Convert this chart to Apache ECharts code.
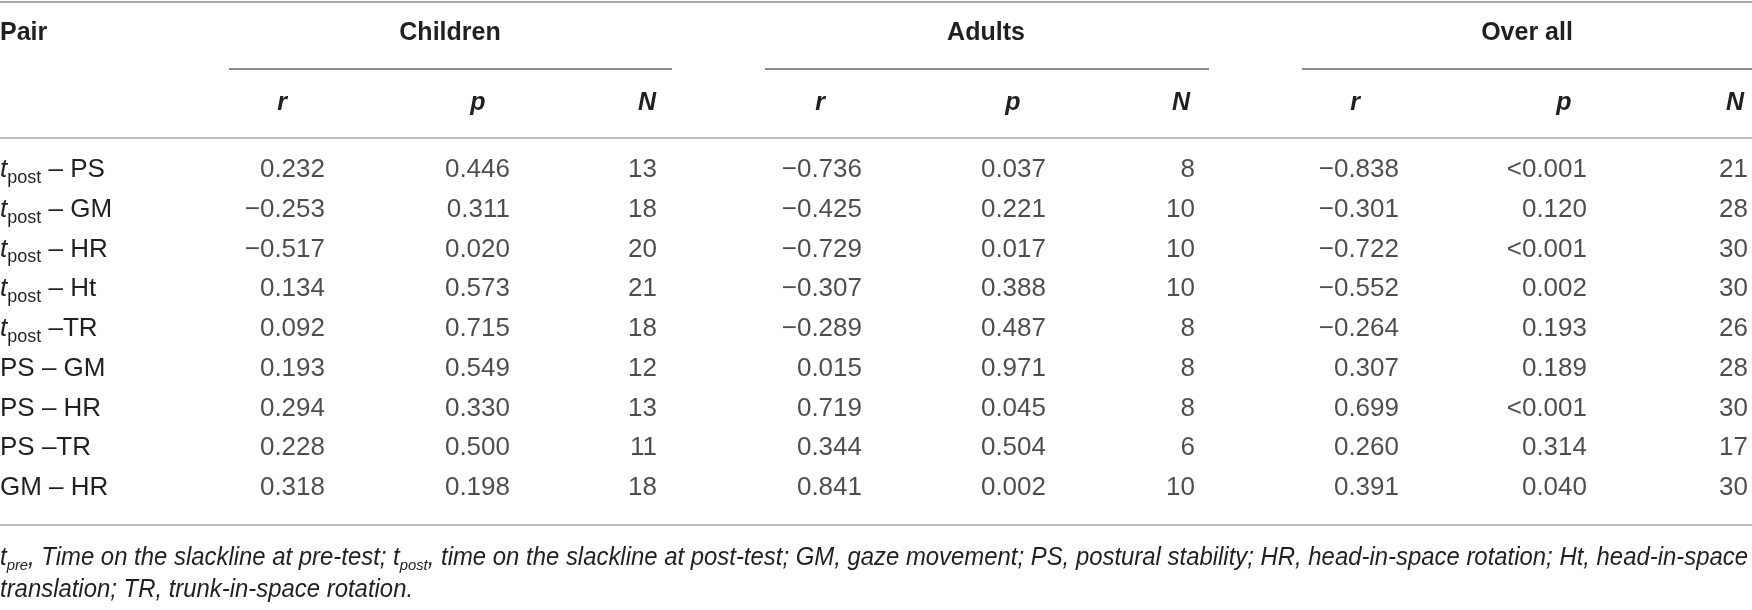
<!DOCTYPE html>
<html>
<head>
<meta charset="utf-8">
<script src="https://cdn.jsdelivr.net/npm/echarts@6/dist/echarts.min.js"></script>
<style>
  html, body { margin: 0; padding: 0; background: #fff; }
  #chart { width: 1752px; height: 610px; }
</style>
</head>
<body>
<div id="chart"></div>
<script>
var pairs = ['t_post – PS', 't_post – GM', 't_post – HR', 't_post – Ht', 't_post –TR',
             'PS – GM', 'PS – HR', 'PS –TR', 'GM – HR'];
var groups = ['Children', 'Adults', 'Over all'];
var statHeads = ['r', 'p', 'N'];

var childrenR = [0.232, -0.253, -0.517, 0.134, 0.092, 0.193, 0.294, 0.228, 0.318];
var childrenP = ['0.446', '0.311', '0.020', '0.573', '0.715', '0.549', '0.330', '0.500', '0.198'];
var childrenN = [13, 18, 20, 21, 18, 12, 13, 11, 18];
var adultsR = [-0.736, -0.425, -0.729, -0.307, -0.289, 0.015, 0.719, 0.344, 0.841];
var adultsP = ['0.037', '0.221', '0.017', '0.388', '0.487', '0.971', '0.045', '0.504', '0.002'];
var adultsN = [8, 10, 10, 10, 8, 8, 8, 6, 10];
var overallR = [-0.838, -0.301, -0.722, -0.552, -0.264, 0.307, 0.699, 0.260, 0.391];
var overallP = ['<0.001', '0.120', '<0.001', '0.002', '0.193', '0.189', '<0.001', '0.314', '0.040'];
var overallN = [21, 28, 30, 30, 26, 28, 30, 17, 30];

(function() {
  var ink = '#231f20';
  var font = "'Liberation Sans', Arial, sans-serif";
  var narrow = "'Liberation Sans Narrow', 'Liberation Sans', sans-serif";
  var W = 1752;
  var size = 26;

  // layout: 9 equal bands, values right aligned with a small nudge per column
  var gridLeft = 206, band = 179, gridTop = 150, rowH = 39.75;
  var valueShift = [29.5, 35.5, 3.5, 29.5, 34.5, 4.5, 29.5, 38.5, 20.5];
  var headShift = [-13.5, 3.5, -6.5, -12.5, 1.5, -9.5, -14.5, 15.5, 7.5];
  var groupShift = [-24.5, -25.5, -21.5];

  function fmtR(v) { return (v < 0 ? '\u2212' : '') + Math.abs(v).toFixed(3); }
  function same(v) { return String(v); }

  var columns = [
    [childrenR, fmtR], [childrenP, same], [childrenN, same],
    [adultsR, fmtR], [adultsP, same], [adultsN, same],
    [overallR, fmtR], [overallP, same], [overallN, same]
  ];

  var colHeads = [];
  groups.forEach(function() { statHeads.forEach(function(h) { colHeads.push(h); }); });

  function shiftPad(s) { return s >= 0 ? [0, 0, 0, 2 * s] : [0, -2 * s, 0, 0]; }

  var headRich = {};
  headShift.forEach(function(s, i) {
    headRich['h' + i] = { fontFamily: font, fontWeight: 'bold', fontStyle: 'italic',
      fontSize: 25, color: ink, padding: shiftPad(s) };
  });
  var groupRich = {};
  groupShift.forEach(function(s, i) {
    groupRich['g' + i] = { fontFamily: font, fontWeight: 'bold', fontSize: 25,
      color: ink, padding: shiftPad(s) };
  });

  function pairLabel(v) {
    if (v.indexOf('t_') === 0) {
      var rest = v.slice(2);
      var sp = rest.indexOf(' ');
      return '{it|t}{sub|' + rest.slice(0, sp) + '}{tx|' + rest.slice(sp) + '}';
    }
    return '{tx|' + v + '}';
  }

  // footnote: condensed italic, squeezed to run the full width like the reference
  var footSize = 25, subSize = 15.5;
  var foot1 = [['t', 0], ['pre', 1], [', Time on the slackline at pre-test; ', 0], ['t', 0], ['post', 1],
    [', time on the slackline at post-test; GM, gaze movement; PS, postural stability; HR, head-in-space rotation; Ht, head-in-space', 0]];
  var foot2 = [['translation; TR, trunk-in-space rotation.', 0]];
  var ctx = document.createElement('canvas').getContext('2d');
  var w = 0;
  foot1.forEach(function(p) {
    ctx.font = 'italic ' + (p[1] ? subSize : footSize) + 'px ' + narrow;
    w += ctx.measureText(p[0]).width;
  });
  var squeeze = (W - 4) / w;
  function footText(parts) {
    return parts.map(function(p) { return '{' + (p[1] ? 's' : 'i') + '|' + p[0] + '}'; }).join('');
  }
  var footRich = {
    i: { fontFamily: narrow, fontStyle: 'italic', fontSize: footSize, fill: ink, lineHeight: 32 },
    s: { fontFamily: narrow, fontStyle: 'italic', fontSize: subSize, fill: ink,
         lineHeight: 16, verticalAlign: 'bottom' }
  };

  function rule(y, x1, x2, color) {
    return { type: 'line', silent: true, shape: { x1: x1, y1: y, x2: x2, y2: y },
      style: { stroke: color, lineWidth: 2 } };
  }

  var chart = echarts.init(document.getElementById('chart'), null, { renderer: 'canvas' });
  chart.setOption({
    animation: false,
    backgroundColor: '#fff',
    grid: { left: gridLeft, top: gridTop, width: band * 9, height: rowH * 9,
      outerBoundsMode: 'none', containLabel: false },
    xAxis: [{
      type: 'category', data: colHeads, position: 'top',
      axisLine: { show: false }, axisTick: { show: false }, splitLine: { show: false },
      axisLabel: { interval: 0, margin: gridTop - 103, verticalAlign: 'middle',
        formatter: function(v, i) { return '{h' + i + '|' + v + '}'; }, rich: headRich }
    }, {
      type: 'category', data: groups, position: 'top',
      axisLine: { show: false }, axisTick: { show: false }, splitLine: { show: false },
      axisLabel: { interval: 0, margin: gridTop - 33, verticalAlign: 'middle',
        formatter: function(v, i) { return '{g' + i + '|' + v + '}'; }, rich: groupRich }
    }],
    yAxis: {
      type: 'category', data: pairs, inverse: true,
      axisLine: { show: false }, axisTick: { show: false }, splitLine: { show: false },
      axisLabel: {
        interval: 0, align: 'left', margin: gridLeft, formatter: pairLabel,
        rich: {
          it: { fontFamily: font, fontStyle: 'italic', fontSize: size, color: ink, lineHeight: 34 },
          sub: { fontFamily: font, fontSize: 18, color: ink, lineHeight: 18, verticalAlign: 'bottom' },
          tx: { fontFamily: font, fontSize: size, color: ink, lineHeight: 34 }
        }
      }
    },
    graphic: [
      rule(2, 0, W, '#a9a9a9'),
      rule(69, 229, 672, '#8e8e8e'),
      rule(69, 765, 1209, '#8e8e8e'),
      rule(69, 1302, W, '#8e8e8e'),
      rule(138, 0, W, '#bdbdbd'),
      rule(525, 0, W, '#bdbdbd'),
      { type: 'text', x: 0, y: 33, silent: true,
        style: { text: 'Pair', fontFamily: font, fontWeight: 'bold', fontSize: 25, fill: ink,
          verticalAlign: 'middle' } },
      { type: 'text', x: 0, y: 558, scaleX: squeeze, silent: true,
        style: { text: footText(foot1), rich: footRich, verticalAlign: 'middle' } },
      { type: 'text', x: 0, y: 590, scaleX: squeeze, silent: true,
        style: { text: footText(foot2), rich: footRich, verticalAlign: 'middle' } }
    ],
    series: columns.map(function(col, c) {
      return {
        type: 'scatter', silent: true, symbolSize: 1,
        itemStyle: { color: 'rgba(0,0,0,0)' },
        data: col[0].map(function(v, r) { return [c, r, col[1](v)]; }),
        label: {
          show: true, position: 'inside', align: 'right', verticalAlign: 'middle',
          offset: [valueShift[c], 0], fontFamily: font, fontSize: size, color: ink,
          formatter: function(p) { return p.value[2]; }
        }
      };
    })
  });
  window.addEventListener('resize', function() { chart.resize(); });
})();
</script>
</body>
</html>
